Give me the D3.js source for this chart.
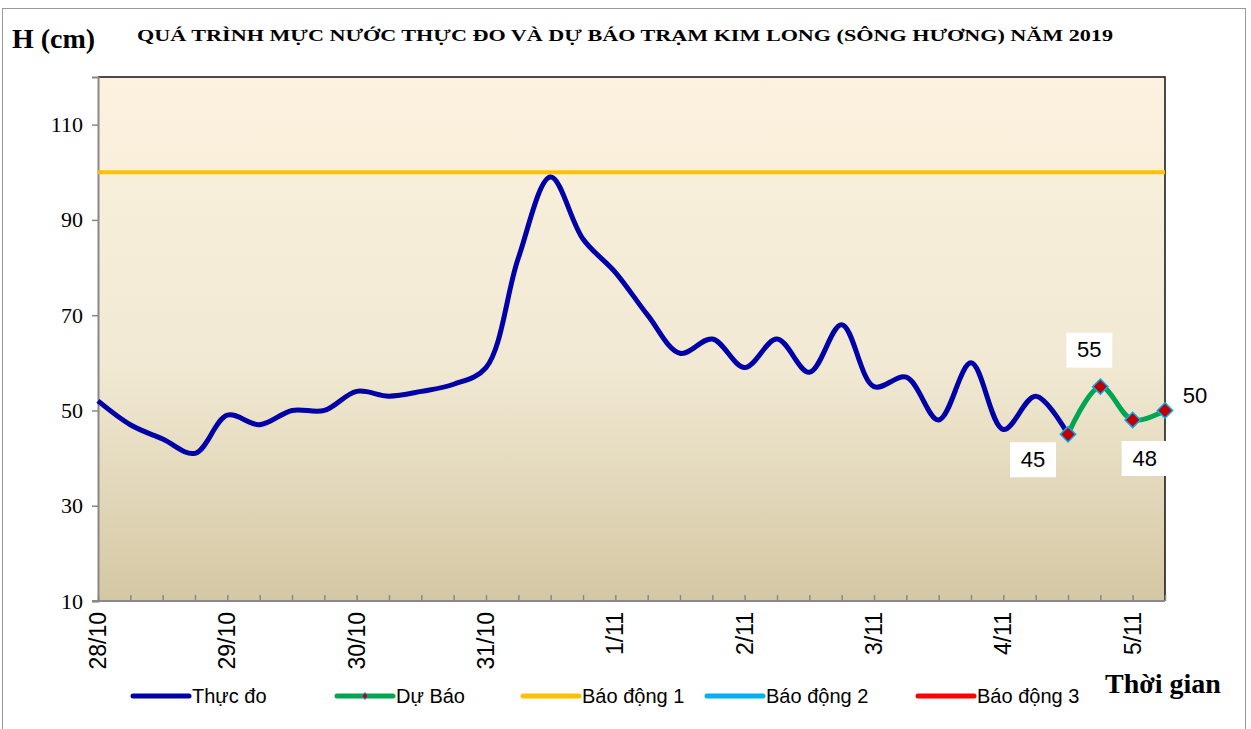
<!DOCTYPE html>
<html>
<head>
<meta charset="UTF-8">
<style>
  body { margin: 0; background: #fff; }
  svg { display: block; }
</style>
</head>
<body>
<svg></svg>
<script src="https://d3js.org/d3.v7.min.js"></script>
<script>
// data: measured every 6 hours, from 28/10 00h
const dayLabels = ["28/10", "29/10", "30/10", "31/10", "1/11", "2/11", "3/11", "4/11", "5/11"];
const measured = [52, 47, 44, 41, 49, 47, 50, 50, 54, 53, 54, 55.5, 59, 82, 99, 86, 79, 70,
                  62, 65, 59, 65, 58, 68, 55, 57, 48, 60, 46, 53, 45];
const forecast = [45, 55, 48, 50];      // starts at last measured step
const forecastStart = 30;
const alarm1 = 100;
const yTicks = [10, 30, 50, 70, 90, 110];
const legendItems = [
  { name: "Thực đo", color: "#0000A8", x: 133 },
  { name: "Dự Báo", color: "#00A650", x: 337, marker: true },
  { name: "Báo động 1", color: "#FFC000", x: 523 },
  { name: "Báo động 2", color: "#00B0F0", x: 707 },
  { name: "Báo động 3", color: "#FF0000", x: 918 }
];

const width = 1251, height = 729;
const svg = d3.select("svg").attr("width", width).attr("height", height);

// outer frame
svg.append("rect").attr("x", 2.5).attr("y", 8.5).attr("width", 1243).attr("height", 730)
  .attr("fill", "#fff").attr("stroke", "#999").attr("stroke-width", 1);

let x = d3.scaleLinear().domain([0, 33]).range([98, 1165]);
let y = d3.scaleLinear().domain([10, 120]).range([601, 77]);

// plot background gradient
let defs = svg.append("defs");
let grad = defs.append("linearGradient").attr("id", "bg").attr("x1", 0).attr("y1", 0).attr("x2", 0).attr("y2", 1);
grad.append("stop").attr("offset", "0%").attr("stop-color", "#FCF2DF");
grad.append("stop").attr("offset", "55%").attr("stop-color", "#F1E9D3");
grad.append("stop").attr("offset", "100%").attr("stop-color", "#D4C7A3");

svg.append("rect")
  .attr("x", x(0)).attr("y", y(120))
  .attr("width", x(33) - x(0)).attr("height", y(10) - y(120))
  .attr("fill", "url(#bg)");

// top and right border
svg.append("path")
  .attr("d", `M${x(0)},${y(120)}H${x(33)}V${y(10)}`)
  .attr("fill", "none").attr("stroke", "#111").attr("stroke-width", 1.5);

// y axis
let yAxis = d3.axisLeft(y).tickValues(yTicks).tickSize(6).tickPadding(9);
let gy = svg.append("g").attr("transform", `translate(${x(0)},0)`).call(yAxis)
  .attr("font-family", null).attr("font-size", null);
gy.select(".domain").attr("stroke", "#888").attr("stroke-width", 2);
gy.selectAll(".tick line").attr("stroke", "#888").attr("stroke-width", 1.5);
gy.selectAll(".tick text")
  .style("font-family", "'Liberation Serif', 'Times New Roman', serif")
  .style("font-size", "22px").attr("fill", "#000");

// x axis: minor ticks every 6 hours pointing up
let xAxis = d3.axisBottom(x).tickValues(d3.range(0, 34)).tickSizeInner(-6).tickSizeOuter(0).tickFormat("");
let gx = svg.append("g").attr("transform", `translate(0,${y(10)})`).call(xAxis);
gx.select(".domain").attr("stroke", "#888").attr("stroke-width", 2).attr("d", `M${x(0) - 6},0H${x(33)}`);
gx.selectAll(".tick line").attr("stroke", "#888").attr("stroke-width", 1.5);

// day labels rotated
svg.append("g").selectAll("text")
  .data(dayLabels)
  .join("text")
  .attr("transform", (d, i) => `translate(${x(i * 4) + 8},${y(10) + 11}) rotate(-90)`)
  .attr("text-anchor", "end")
  .attr("font-family", "Liberation Sans, Arial, sans-serif")
  .attr("font-size", 23)
  .attr("fill", "#000")
  .text(d => d);

// alarm level 1
svg.append("line")
  .attr("x1", x(0)).attr("x2", x(33))
  .attr("y1", y(alarm1)).attr("y2", y(alarm1))
  .attr("stroke", "#FFC000").attr("stroke-width", 4);

// lines
let line = d3.line()
  .x(d => x(d.i)).y(d => y(d.v))
  .curve(d3.curveCatmullRom.alpha(0.5));

let measPts = measured.map((v, i) => ({ i: i, v: v }));
let fcPts = forecast.map((v, k) => ({ i: forecastStart + k, v: v }));

svg.append("path").datum(measPts)
  .attr("d", line).attr("fill", "none")
  .attr("stroke", "#0000A8").attr("stroke-width", 5).attr("stroke-linejoin", "round");

svg.append("path").datum(fcPts)
  .attr("d", line).attr("fill", "none")
  .attr("stroke", "#00A650").attr("stroke-width", 5);

// forecast markers
let diamond = d3.symbol().type(d3.symbolDiamond2).size(150);
svg.append("g").selectAll("path")
  .data(fcPts)
  .join("path")
  .attr("transform", d => `translate(${x(d.i)},${y(d.v)})`)
  .attr("d", diamond)
  .attr("fill", "#C00000").attr("stroke", "#00B0F0").attr("stroke-width", 1.5);

// value labels with white boxes
let labelPos = [
  { dx: -35, dy: 25 },
  { dx: -11, dy: -37 },
  { dx: 12, dy: 38 },
  { dx: 30, dy: -15 }
];
let lbl = svg.append("g").selectAll("g")
  .data(fcPts)
  .join("g")
  .attr("transform", (d, k) => `translate(${x(d.i) + labelPos[k].dx},${y(d.v) + labelPos[k].dy})`);
lbl.filter((d, k) => k < 3).append("rect")
  .attr("x", -23).attr("y", -17).attr("width", 46).attr("height", 35).attr("fill", "#fff");
lbl.append("text")
  .attr("text-anchor", "middle").attr("dy", "0.35em")
  .attr("font-family", "Liberation Sans, Arial, sans-serif").attr("font-size", 22)
  .attr("fill", "#000")
  .text(d => d.v);

// titles
svg.append("text").attr("x", 12).attr("y", 48)
  .attr("font-family", "Liberation Serif, Times New Roman, serif")
  .attr("font-size", 28).attr("font-weight", "bold")
  .text("H (cm)");

svg.append("text").attr("x", 137).attr("y", 41)
  .attr("font-family", "Liberation Serif, Times New Roman, serif")
  .attr("font-size", 16).attr("font-weight", "bold")
  .attr("textLength", 976).attr("lengthAdjust", "spacingAndGlyphs")
  .text("QUÁ TRÌNH MỰC NƯỚC THỰC ĐO VÀ DỰ BÁO TRẠM KIM LONG (SÔNG HƯƠNG) NĂM  2019");

svg.append("text").attr("x", 1105).attr("y", 693)
  .attr("font-family", "Liberation Serif, Times New Roman, serif")
  .attr("font-size", 28).attr("font-weight", "bold")
  .text("Thời gian");

// legend
let leg = svg.append("g").selectAll("g")
  .data(legendItems)
  .join("g")
  .attr("transform", d => `translate(${d.x},696)`);
leg.append("line")
  .attr("x1", 0).attr("x2", 56).attr("y1", 0).attr("y2", 0)
  .attr("stroke", d => d.color).attr("stroke-width", 5).attr("stroke-linecap", "round");
leg.filter(d => d.marker).append("path")
  .attr("transform", "translate(28,0)")
  .attr("d", d3.symbol().type(d3.symbolDiamond2).size(30))
  .attr("fill", "#C00000").attr("stroke", "#00B0F0").attr("stroke-width", 1);
leg.append("text")
  .attr("x", 59).attr("dy", "0.35em")
  .attr("font-family", "Liberation Sans, Arial, sans-serif").attr("font-size", 20)
  .attr("fill", "#000")
  .text(d => d.name);
</script>
</body>
</html>
